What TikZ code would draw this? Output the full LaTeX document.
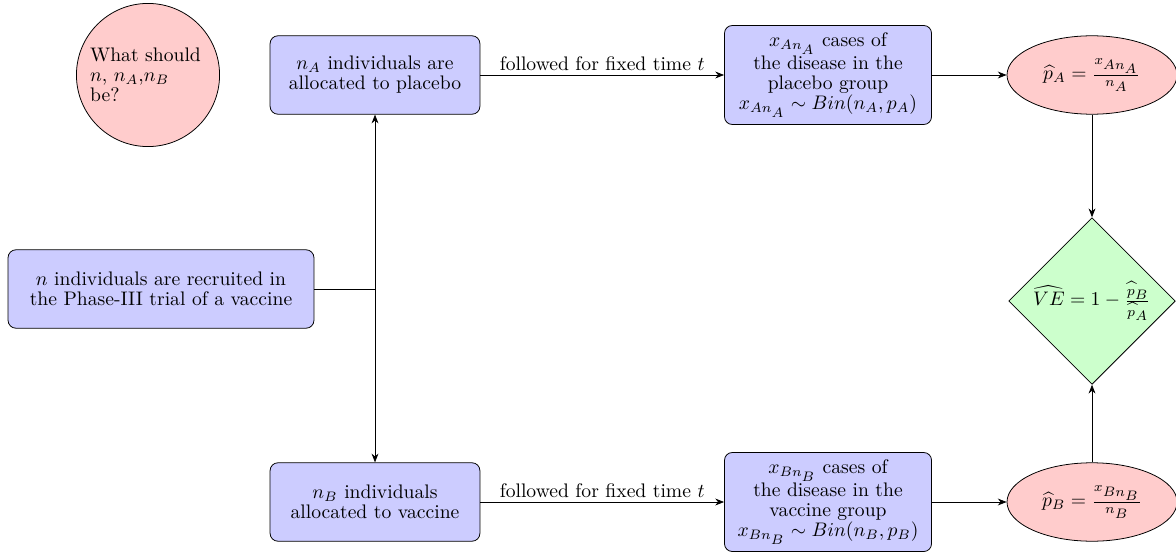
\documentclass[tikz,border=0pt]{standalone}
\usetikzlibrary{shapes.geometric,arrows.meta}
\DeclareMathSizes{10}{10}{7}{7}
\begin{document}
\begin{tikzpicture}[x=0.51pt,y=-0.51pt,
  every node/.style={font=\fontsize{10}{10.2}\selectfont},
  bluebox/.style={rectangle,rounded corners=4pt,draw=black,fill=blue!20,align=center,inner sep=0pt},
  redell/.style={ellipse,draw=black,fill=red!20,align=center,inner sep=0pt,minimum width=86.7pt,minimum height=40pt},
  conn/.style={-{Stealth[length=4.5pt,width=3.5pt]},black},
  plain/.style={black}]
\useasboundingbox (0,0) rectangle (1176,554);
\node[circle,draw=black,fill=red!20,minimum size=73pt,inner sep=0pt,text width=59pt,align=left] (q) at (148,75)
  {What should\\ $n$, $n_A$,$n_B$\\ be?};
\node[bluebox,minimum width=107pt,minimum height=40pt] (nA) at (375,75) {$n_A$ individuals are\\ allocated to placebo};
\node[bluebox,minimum width=156pt,minimum height=40pt] (n) at (161,289) {$n$ individuals are recruited in\\ the Phase-III trial of a vaccine};
\node[bluebox,minimum width=107pt,minimum height=40pt] (nB) at (375,502) {$n_B$ individuals\\ allocated to vaccine};
\node[bluebox,minimum width=105.6pt,minimum height=50.5pt] (xA) at (828,75)
  {$x_{An_A}$ cases of\\ the disease in the\\ placebo group\\ $x_{An_A}\sim Bin(n_A,p_A)$};
\node[bluebox,minimum width=105.6pt,minimum height=50.5pt] (xB) at (828,502)
  {$x_{Bn_B}$ cases of\\ the disease in the\\ vaccine group\\ $x_{Bn_B}\sim Bin(n_B,p_B)$};
\node[redell] (pA) at (1092,75) {$\widehat{p}_A=\frac{x_{An_A}}{n_A}$};
\node[redell] (pB) at (1092,502) {$\widehat{p}_B=\frac{x_{Bn_B}}{n_B}$};
\node[diamond,draw=black,fill=green!20,minimum width=85pt,minimum height=85pt,inner sep=0pt] (ve) at (1092,301)
  {$\widehat{VE}=1-\frac{\widehat{p}_B}{\widehat{p}_A}$};
\coordinate (j) at (nA.south |- n.east);
\draw[plain] (n.east) -- (j);
\draw[conn] (j) -- (nA.south);
\draw[conn] (j) -- (nB.north);
\draw[conn] (nA.east) -- node[above,inner sep=2pt]{followed for fixed time $t$} (xA.west);
\draw[conn] (nB.east) -- node[above,inner sep=2pt]{followed for fixed time $t$} (xB.west);
\draw[conn] (xA.east) -- (pA.west);
\draw[conn] (xB.east) -- (pB.west);
\draw[conn] (pA.south) -- (ve.north);
\draw[conn] (pB.north) -- (ve.south);
\end{tikzpicture}
\end{document}
